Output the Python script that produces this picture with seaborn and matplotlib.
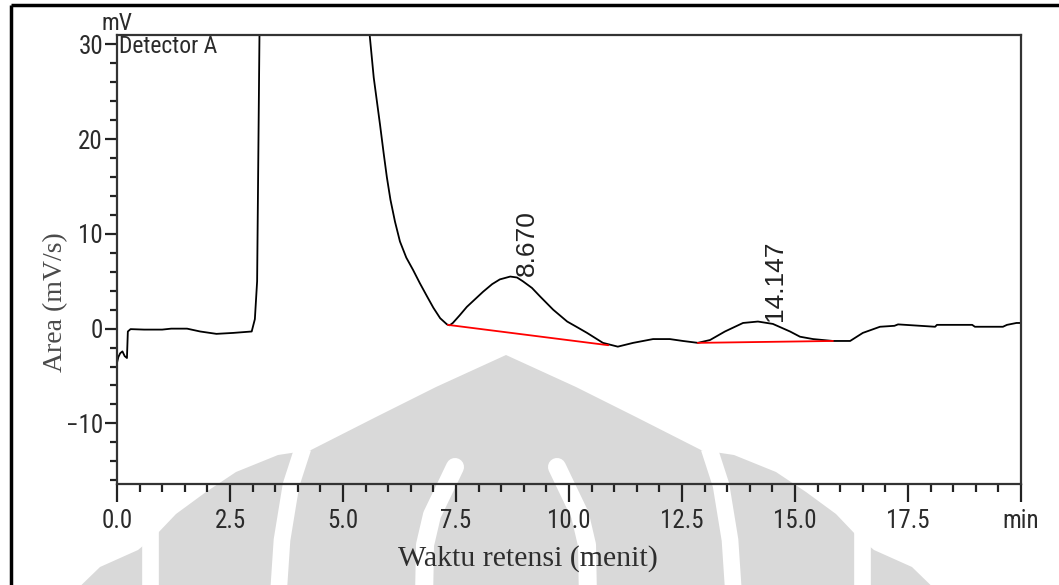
import numpy as np
import pandas as pd
import matplotlib
matplotlib.use("Agg")
import matplotlib.pyplot as plt
from matplotlib import font_manager
from matplotlib.ticker import MultipleLocator
from matplotlib.patches import Polygon
import seaborn as sns

# ------------------------------------------------
# Data
# ------------------------------------------------

time_min = [0.00, 0.03, 0.07, 0.12, 0.17, 0.22, 0.24, 0.30, 0.60, 1.00,
            1.20, 1.55, 1.84, 2.20, 2.57, 2.98, 3.05, 3.10, 3.13, 3.17,
            5.58, 5.62, 5.68, 5.75, 5.82, 5.90, 5.97, 6.05, 6.15, 6.26,
            6.40, 6.55, 6.70, 6.86, 7.00, 7.15, 7.30, 7.36, 7.43, 7.58,
            7.74, 7.92, 8.10, 8.30, 8.47, 8.70, 8.85, 8.98, 9.18, 9.36,
            9.65, 9.96, 10.20, 10.40, 10.75, 11.08, 11.42, 11.86, 12.23, 12.52,
            12.85, 13.12, 13.45, 13.85, 14.18, 14.51, 14.89, 15.11, 15.40, 15.84,
            16.22, 16.50, 16.88, 17.20, 17.28, 18.10, 18.14, 18.92, 18.98, 19.60,
            19.69, 19.90, 20.00]
signal_mv = [-3.6, -3.0, -2.6, -2.4, -2.9, -3.1, -0.3, -0.05, -0.1, -0.1,
             0.0, 0.0, -0.3, -0.55, -0.45, -0.3, 1.0, 5.0, 20.0, 40.0,
             31.5, 29.5, 26.5, 24.0, 21.5, 18.5, 16.0, 13.6, 11.3, 9.2,
             7.5, 6.2, 4.8, 3.4, 2.2, 1.1, 0.45, 0.35, 0.6, 1.4,
             2.3, 3.1, 3.9, 4.7, 5.2, 5.5, 5.4, 5.0, 4.3, 3.4,
             2.0, 0.75, 0.1, -0.45, -1.5, -1.9, -1.5, -1.1, -1.1, -1.3,
             -1.5, -1.2, -0.3, 0.6, 0.75, 0.5, -0.3, -0.85, -1.1, -1.3,
             -1.3, -0.45, 0.2, 0.3, 0.45, 0.2, 0.4, 0.4, 0.2, 0.2,
             0.4, 0.6, 0.6]

# integration baselines (start time, end time, start mV, end mV)
base_t0 = [7.32, 12.85]
base_t1 = [10.87, 15.84]
base_y0 = [0.4, -1.5]
base_y1 = [-1.75, -1.3]

peak_rt = [8.670, 14.147]
peak_labels = ["8.670", "14.147"]

x_ticks = [0.0, 2.5, 5.0, 7.5, 10.0, 12.5, 15.0, 17.5, 20.0]
x_ticklabels = ["0.0", "2.5", "5.0", "7.5", "10.0", "12.5", "15.0", "17.5", "min"]

trace = pd.DataFrame({"time": time_min, "mv": signal_mv})

# ------------------------------------------------
# Fonts
# ------------------------------------------------

sns.set_theme(style="white")
available = {f.name for f in font_manager.fontManager.ttflist}
narrow = next((n for n in ["Liberation Sans Narrow", "Arial Narrow", "Roboto Condensed"]
               if n in available), None)
if narrow:
    tick_font = dict(family=narrow, size=18)
else:
    tick_font = dict(family="Liberation Sans", size=15, stretch="condensed")
serif = ["Liberation Serif", "DejaVu Serif"]
plt.rcParams["font.family"] = ["Liberation Sans", "DejaVu Sans"]

fig = plt.figure(figsize=(10.59, 5.85), dpi=100)

# ------------------------------------------------
# Background: page frame and faint logo watermark (pixel coords)
# ------------------------------------------------

bg = fig.add_axes([0, 0, 1, 1], zorder=0)
bg.set_xlim(0, 1059)
bg.set_ylim(585, 0)
bg.axis("off")

cx = 506
profile = [(0, 355), (70, 387), (130, 417), (195, 450), (228, 455),
           (270, 472), (300, 492), (330, 514), (350, 535), (368, 550),
           (406, 567), (440, 600)]
left = [(cx - o, y) for o, y in profile]
right = [(cx + o, y) for o, y in profile[::-1]]
bg.add_patch(Polygon(left + right, closed=True, color="#d9d9d9", lw=0))


def band(offsets, lw, cap="butt"):
    offs, ys = zip(*offsets)
    bg.plot([cx - o for o in offs], ys, color="white", lw=lw, solid_capstyle=cap)
    bg.plot([cx + o for o in offs], ys, color="white", lw=lw, solid_capstyle=cap)


band([(203, 448), (215, 485), (224, 540), (228, 600)], 12)
band([(51, 467), (62, 490), (74, 515), (81, 545), (82, 600)], 13, cap="round")
band([(356, 530), (356, 600)], 12)

bg.plot([11, 1059], [5, 5], color="black", lw=2.5, solid_capstyle="butt")
bg.plot([11, 11], [5, 585], color="black", lw=2.5, solid_capstyle="butt")

# ------------------------------------------------
# Chromatogram
# ------------------------------------------------

ax = fig.add_axes([117 / 1059, 1 - 484 / 585, (1021 - 117) / 1059, (484 - 35) / 585],
                  zorder=1)
ax.set_facecolor("none")

sns.lineplot(data=trace, x="time", y="mv", ax=ax, color="black", lw=1.3,
             sort=False, estimator=None)

for t0, t1, y0, y1 in zip(base_t0, base_t1, base_y0, base_y1):
    ax.plot([t0, t1], [y0, y1], color="#ff0000", lw=1.3)

for rt, lab in zip(peak_rt, peak_labels):
    top = np.interp(rt, time_min, signal_mv)
    ax.text(rt + 0.4, top + 0.1, lab, rotation=90, ha="center", va="bottom",
            fontsize=19, color="#222222", family="Liberation Sans")

ax.set_xlim(0, 20)
ax.set_ylim(-16.4, 31.0)
ax.set_xticks(x_ticks)
ax.set_xticklabels(x_ticklabels)
ax.xaxis.set_minor_locator(MultipleLocator(0.5))
ax.yaxis.set_major_locator(MultipleLocator(10))
ax.yaxis.set_minor_locator(MultipleLocator(2))

for lab in ax.get_xticklabels() + ax.get_yticklabels():
    lab.set_fontproperties(font_manager.FontProperties(**tick_font))
    lab.set_color("#2b2b2b")

ax.tick_params(axis="x", which="major", direction="out", length=13, width=1.6,
               color="#222222", pad=5, bottom=True)
ax.tick_params(axis="x", which="minor", direction="out", length=6, width=1.6,
               color="#222222", bottom=True)
ax.tick_params(axis="y", which="major", direction="out", length=9, width=1.6,
               color="#222222", pad=1, left=True)
ax.tick_params(axis="y", which="minor", direction="out", length=5, width=1.6,
               color="#222222", left=True)

for s in ax.spines.values():
    s.set_color("#333333")
    s.set_linewidth(1.6)

ax.text(0, 1.0, "mV", transform=ax.transAxes, ha="center", va="bottom",
        color="#2b2b2b", **{**tick_font, "size": tick_font["size"] - 1})
ax.text(0.002, 1.0, "Detector A", transform=ax.transAxes, ha="left", va="top",
        color="#2b2b2b", **{**tick_font, "size": tick_font["size"] - 1})

ax.set_xlabel("Waktu retensi (menit)", family=serif, fontsize=21.5,
              color="#2e2e2e")
ax.set_ylabel("Area (mV/s)", family=serif, fontsize=20, color="#4a4a4a")
ax.xaxis.set_label_coords(0.455, -0.137)
ax.yaxis.set_label_coords(-0.054, 0.405)

plt.savefig("out.png", dpi=100)
plt.close()
